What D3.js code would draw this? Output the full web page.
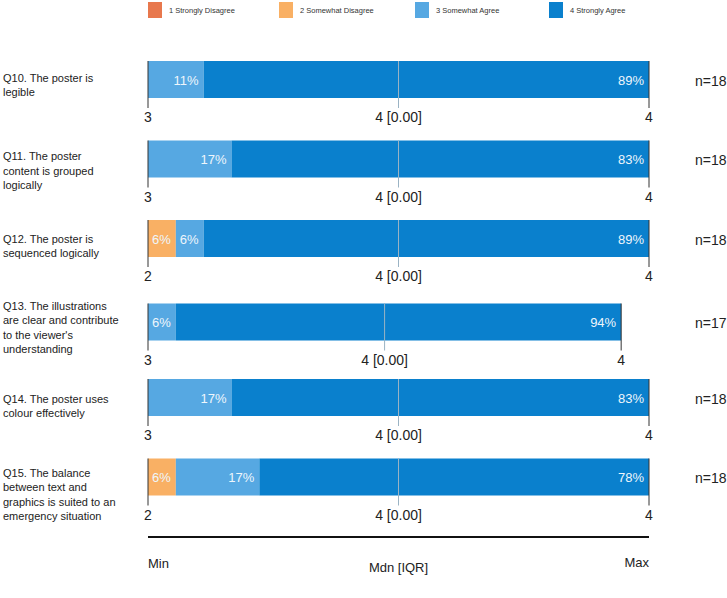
<!DOCTYPE html>
<html>
<head>
<meta charset="utf-8">
<script src="https://cdn.jsdelivr.net/npm/d3@7"></script>
<style>
body{ margin:0; background:#fff; }
text{ font-family:"Liberation Sans", Arial, sans-serif; }
</style>
</head>
<body>
<svg id="chart" width="727" height="598"></svg>
<script>

/// Data
var categories = ["1 Strongly Disagree", "2 Somewhat Disagree", "3 Somewhat Agree", "4 Strongly Agree"];
var colors     = ["#E8784D", "#F9B064", "#56A8E2", "#0A80CD"];

var questions = [
  ["Q10. The poster is", "legible"],
  ["Q11. The poster", "content is grouped", "logically"],
  ["Q12. The poster is", "sequenced logically"],
  ["Q13. The illustrations", "are clear and contribute", "to the viewer's", "understanding"],
  ["Q14. The poster uses", "colour effectively"],
  ["Q15. The balance", "between text and", "graphics is suited to an", "emergency situation"]
];

/// counts of responses per category (1..4) for each question
var counts = [
  [0, 0, 2, 16],
  [0, 0, 3, 15],
  [0, 1, 1, 16],
  [0, 0, 1, 16],
  [0, 0, 3, 15],
  [0, 1, 3, 14]
];
var nResp   = [18, 18, 18, 17, 18, 18];
var minLab  = ["3", "3", "2", "3", "3", "2"];
var mdnLab  = ["4 [0.00]", "4 [0.00]", "4 [0.00]", "4 [0.00]", "4 [0.00]", "4 [0.00]"];
var maxLab  = ["4", "4", "4", "4", "4", "4"];

var svg = d3.select("#chart");

var left = 148, right = 649;
var barH = 37;

/// one unit = one respondent, bar length follows n
var x = d3.scaleLinear().domain([0, d3.max(nResp)]).range([left, right]);

function rowTop(i){ return 61 + i*79.5 + (i === 3 ? 4 : 0); }
var labelShift = [-2, 4, 0, -2, 1, 10];

/// Legend
var legX = [148, 279, 415, 549];
var leg = svg.append("g").selectAll("g").data(categories).join("g")
    .attr("transform", function(d, i){ return "translate(" + legX[i] + ",2)"; });
leg.append("rect").attr("width", 14).attr("height", 16)
    .attr("fill", function(d, i){ return colors[i]; });
leg.append("text").attr("x", 21).attr("y", 11)
    .attr("font-size", 7.5).attr("fill", "#333")
    .text(function(d){ return d; });

/// Rows
questions.forEach(function(q, i){
  var top = rowTop(i);
  var g = svg.append("g");
  var n = nResp[i];

  /// stacked segments
  var segs = [];
  var acc = 0;
  counts[i].forEach(function(c, k){
    segs.push({k: k, x0: acc, x1: acc + c, c: c});
    acc += c;
  });

  g.selectAll("rect").data(segs.filter(function(s){ return s.c > 0; })).join("rect")
      .attr("x", function(s){ return x(s.x0); })
      .attr("width", function(s){ return x(s.x1) - x(s.x0); })
      .attr("y", top).attr("height", barH)
      .attr("fill", function(s){ return colors[s.k]; });

  g.selectAll("text.pct").data(segs.filter(function(s){ return s.c > 0; })).join("text")
      .attr("class", "pct")
      .attr("x", function(s){ return x(s.x1) - 5; })
      .attr("y", top + barH/2 + 5)
      .attr("text-anchor", "end")
      .attr("font-size", 13)
      .attr("fill", "#eef6fc")
      .text(function(s){ return Math.round(s.c / n * 100) + "%"; });

  /// min / median / max ticks
  var xm = x(n/2), xr = x(n);
  g.append("line").attr("x1", xm).attr("x2", xm)
      .attr("y1", top).attr("y2", top + barH + 10)
      .attr("stroke", "#9ab3c4").attr("stroke-width", 1);
  [left, xr].forEach(function(xx){
    g.append("line").attr("x1", xx).attr("x2", xx)
        .attr("y1", top).attr("y2", top + barH + 10)
        .attr("stroke", "#333").attr("stroke-width", 1);
  });

  var ty = top + barH + 24;
  g.append("text").attr("x", left).attr("y", ty).attr("text-anchor", "middle")
      .attr("font-size", 14).attr("fill", "#222").text(minLab[i]);
  g.append("text").attr("x", xm).attr("y", ty).attr("text-anchor", "middle")
      .attr("font-size", 14).attr("fill", "#222").text(mdnLab[i]);
  g.append("text").attr("x", xr).attr("y", ty).attr("text-anchor", "middle")
      .attr("font-size", 14).attr("fill", "#222").text(maxLab[i]);

  /// n label
  g.append("text").attr("x", 695).attr("y", top + barH/2 + 6)
      .attr("font-size", 14).attr("fill", "#222").text("n=" + n);

  /// question label
  var lh = 14.5;
  var cy = top + 26 + labelShift[i];
  var y0 = cy - (q.length - 1) * lh / 2;
  var t = g.append("text").attr("x", 3).attr("font-size", 11).attr("fill", "#222");
  q.forEach(function(line, j){
    t.append("tspan").attr("x", 3).attr("y", y0 + j*lh + 4).text(line);
  });
});

/// bottom key axis
svg.append("line").attr("x1", left).attr("x2", right)
    .attr("y1", 537).attr("y2", 537)
    .attr("stroke", "#111").attr("stroke-width", 2);
svg.append("text").attr("x", left).attr("y", 568)
    .attr("font-size", 13).attr("fill", "#222").text("Min");
svg.append("text").attr("x", (left + right)/2).attr("y", 572).attr("text-anchor", "middle")
    .attr("font-size", 13).attr("fill", "#222").text("Mdn [IQR]");
svg.append("text").attr("x", right).attr("y", 567).attr("text-anchor", "end")
    .attr("font-size", 13).attr("fill", "#222").text("Max");

</script>
</body>
</html>
